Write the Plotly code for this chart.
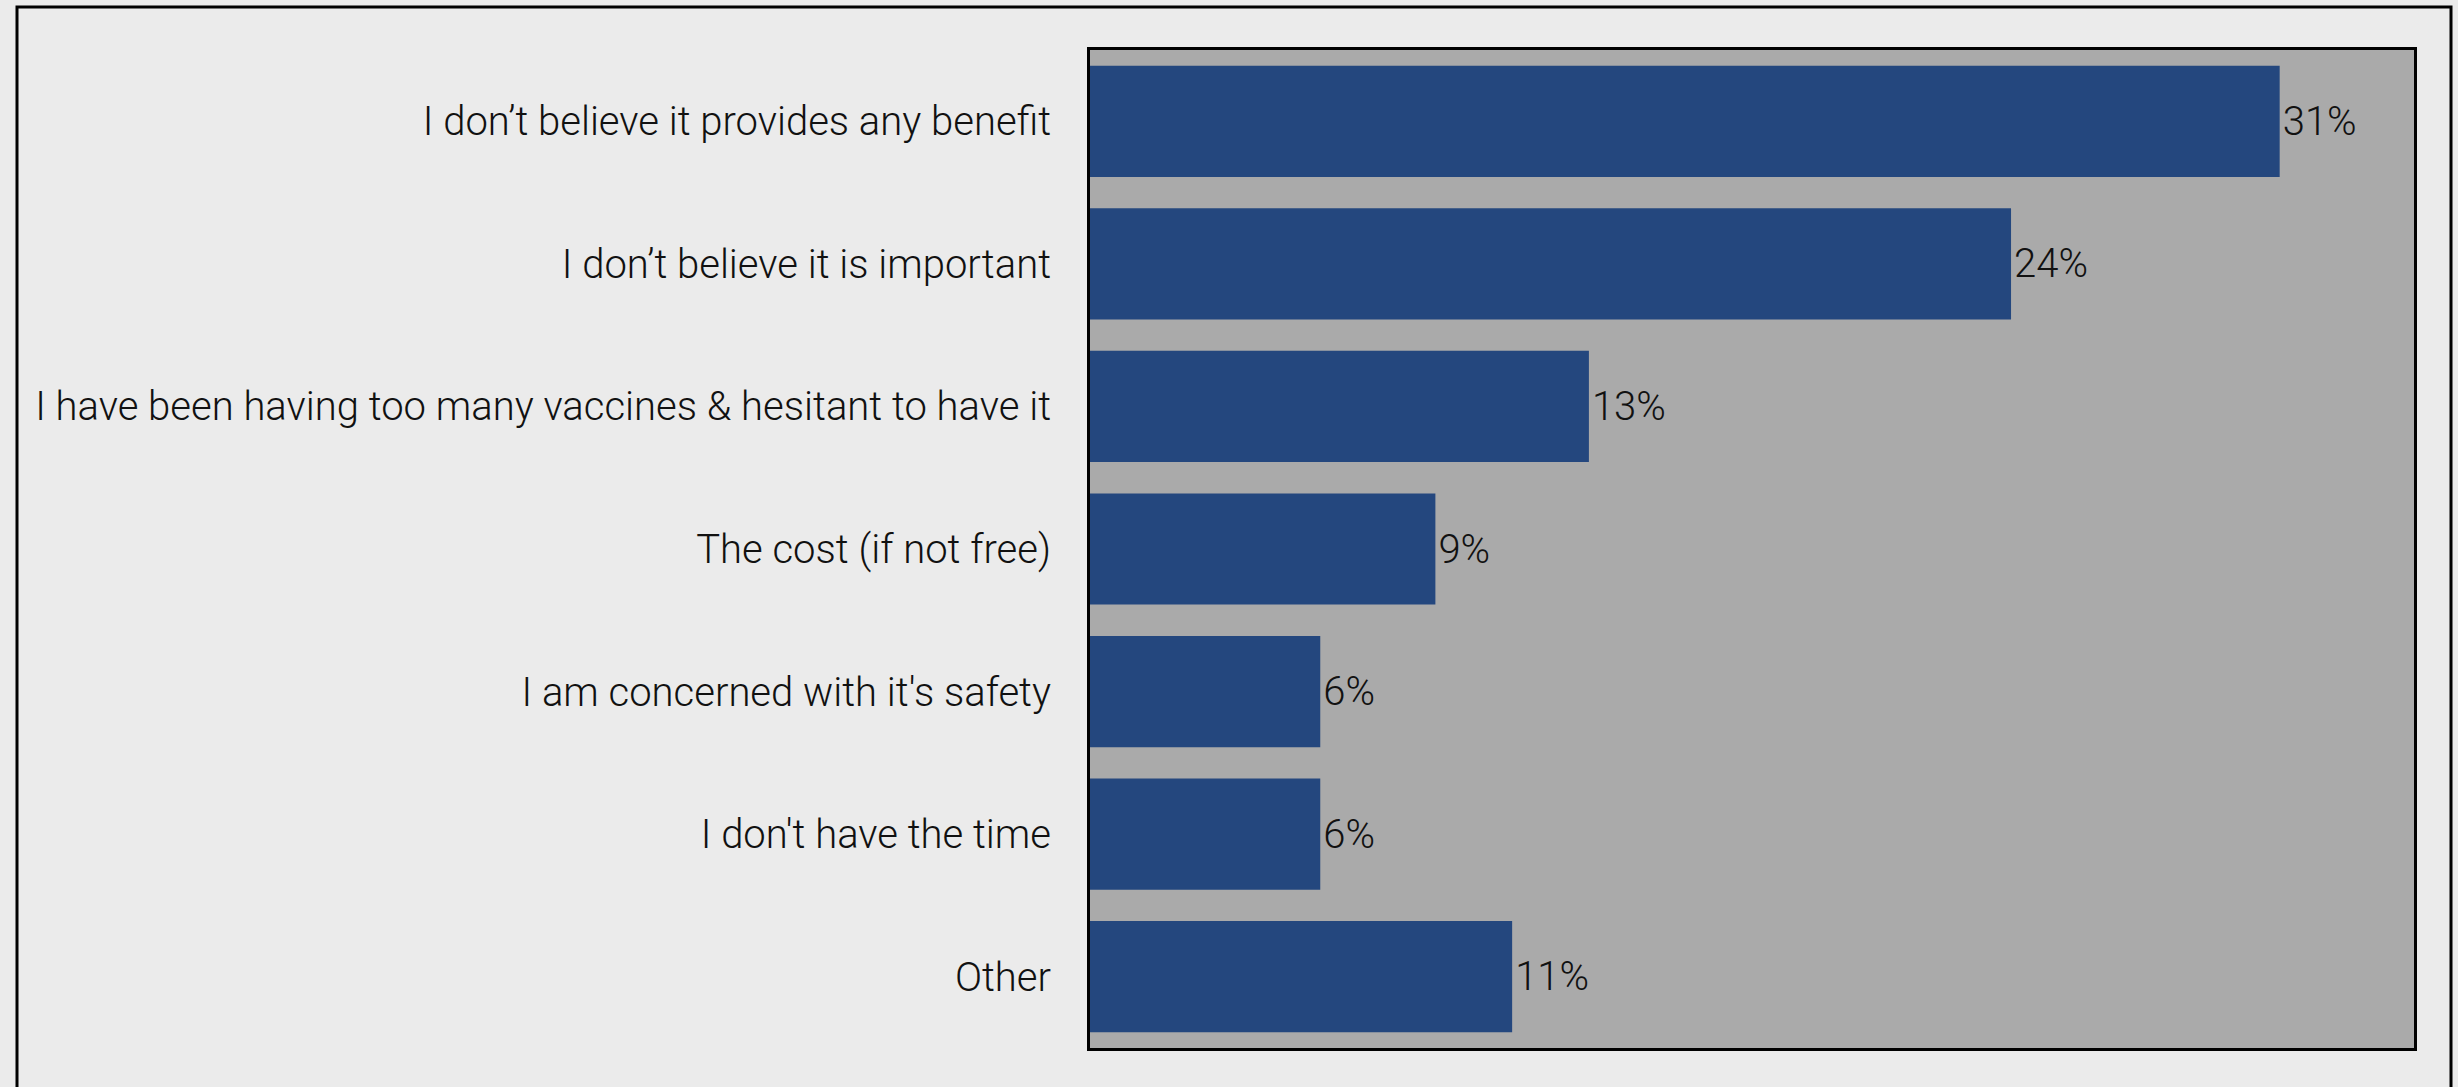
import plotly.graph_objects as go

# Reasons given for not getting the vaccine (share of respondents, %)
reasons = [
    "I don\u2019t believe it provides any benefit",
    "I don\u2019t believe it is important",
    "I have been having too many vaccines & hesitant to have it",
    "The cost (if not free)",
    "I am concerned with it's safety",
    "I don't have the time",
    "Other",
]
shares = [31, 24, 13, 9, 6, 6, 11]

W, H = 2458, 1087
M_L, M_R, M_T, M_B = 1090, 44, 50, 39
plot_w = W - M_L - M_R
plot_h = H - M_T - M_B

FONT = "Roboto"


def px_x(px):
    return (px - M_L) / plot_w


def px_y(py):
    return (H - M_B - py) / plot_h


fig = go.Figure(
    go.Bar(
        x=shares,
        y=reasons,
        orientation="h",
        marker=dict(color="#24477e", line=dict(width=0)),
        text=[f"{v}%" for v in shares],
        textposition="outside",
        textfont=dict(family=FONT, size=40, color="#111111", weight=300),
        cliponaxis=False,
        hoverinfo="skip",
    )
)

fig.update_layout(
    width=W,
    height=H,
    margin=dict(l=M_L, r=M_R, t=M_T, b=M_B, pad=0),
    paper_bgcolor="#ebebeb",
    plot_bgcolor="#aaaaaa",
    bargap=0.22,
    showlegend=False,
    font=dict(family=FONT, size=40, color="#111111", weight=300),
    shapes=[
        # outer frame around the whole graphic
        dict(
            type="rect",
            xref="paper",
            yref="paper",
            x0=px_x(17),
            x1=px_x(2451),
            y0=px_y(1095),
            y1=px_y(7),
            line=dict(color="#000000", width=3),
            fillcolor="rgba(0,0,0,0)",
            layer="below",
        )
    ],
)

fig.update_xaxes(
    range=[0, 34.5],
    showgrid=False,
    zeroline=False,
    showticklabels=False,
    ticks="",
    showline=True,
    mirror=True,
    linecolor="#000000",
    linewidth=3,
)
fig.update_yaxes(
    autorange="reversed",
    showgrid=False,
    ticks="",
    ticklabelstandoff=28,
    tickfont=dict(family=FONT, size=40, color="#111111", weight=300),
    showline=True,
    mirror=True,
    linecolor="#000000",
    linewidth=3,
)

fig.write_html("out.html")
